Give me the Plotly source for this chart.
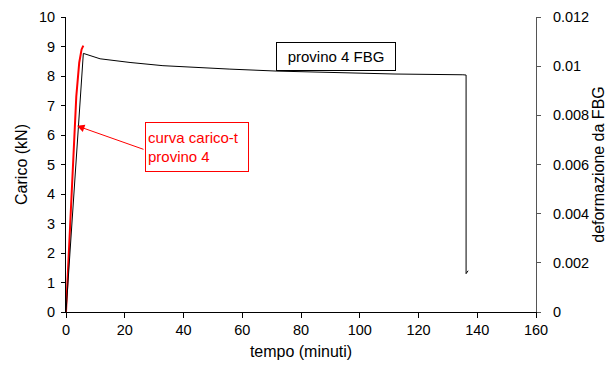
import plotly.graph_objects as go

# Red curve: load vs time (kN), primary axis
t_carico = [0, 1.4, 2.6, 3.5, 4.5, 5.3, 5.9]
carico = [0, 2.9, 5.6, 7.3, 8.45, 8.9, 9.03]

# Black curve: FBG strain vs time, secondary axis
t_fbg = [0, 5.9, 11.6, 21.8, 33.0, 44.6, 55.8, 71.8, 92.0, 112.0, 135.1, 136.2, 136.2, 136.9]
deform_fbg = [0, 0.01052, 0.01030, 0.01015, 0.01002, 0.00994, 0.00988, 0.00980,
              0.00973, 0.00968, 0.00965, 0.00964, 0.00156, 0.00168]

x_ticks = [0, 20, 40, 60, 80, 100, 120, 140, 160]
y_ticks = list(range(0, 11))
y2_ticks = [0, 0.002, 0.004, 0.006, 0.008, 0.01, 0.012]
y2_labels = ["0", "0.002", "0.004", "0.006", "0.008", "0.01", "0.012"]

FONT = "Liberation Sans, Arial, sans-serif"
TICKF = dict(family=FONT, size=14.5, color="black")
TITLEF = dict(family=FONT, size=16, color="black")

fig = go.Figure()
fig.add_trace(go.Scatter(x=t_fbg, y=deform_fbg, mode="lines", yaxis="y2",
                         line=dict(color="black", width=1), showlegend=False))
fig.add_trace(go.Scatter(x=t_carico, y=carico, mode="lines", yaxis="y",
                         line=dict(color="#ff0000", width=2), showlegend=False))

fig.update_layout(
    width=609, height=372,
    margin=dict(l=66, r=73, t=17, b=60, autoexpand=False),
    paper_bgcolor="white", plot_bgcolor="white",
    font=dict(family=FONT, size=13, color="black"),
    xaxis=dict(range=[0, 160], tickvals=x_ticks, showgrid=False, zeroline=False,
               showline=True, linecolor="black", linewidth=1, automargin=False,
               ticks="outside", ticklen=5, tickcolor="black", tickfont=TICKF,
               title=dict(text="tempo (minuti)", standoff=8, font=TITLEF)),
    yaxis=dict(range=[0, 10], tickvals=y_ticks, showgrid=False, zeroline=False,
               showline=True, linecolor="black", linewidth=1, automargin=False,
               ticks="outside", ticklen=4, tickcolor="black", tickfont=TICKF,
               ticklabelstandoff=3,
               title=dict(text="Carico (kN)", standoff=7, font=TITLEF)),
    yaxis2=dict(range=[0, 0.012], tickvals=y2_ticks, ticktext=y2_labels,
                overlaying="y", side="right", anchor="x", automargin=False,
                showgrid=False, zeroline=False,
                showline=True, linecolor="#555555", linewidth=1,
                ticks="outside", ticklen=4, tickcolor="#555555", tickfont=TICKF,
                ticklabelstandoff=9,
                title=dict(text="deformazione da FBG", standoff=4, font=TITLEF)),
    yaxis3=dict(range=[0, 0.012], tickvals=y2_ticks, overlaying="y", side="right",
                anchor="x", showgrid=False, zeroline=False, showline=False,
                automargin=False,
                showticklabels=False, ticks="inside", ticklen=4, tickcolor="#555555"),
)

# Arrow pointing to the red curve
fig.add_annotation(x=3.74, y=6.31, xref="x", yref="y", text="",
                   showarrow=True, arrowhead=2, arrowsize=1.5, arrowwidth=1,
                   arrowcolor="#ff0000", axref="pixel", ayref="pixel", ax=68, ay=24)
# Red label box
fig.add_annotation(x=(145 - 66) / 470 * 160, y=(312 - 122) / 29.5, xref="x", yref="y",
                   xanchor="left", yanchor="top", showarrow=False, align="left",
                   text="curva carico-t<br>provino 4",
                   font=dict(color="#ff0000", size=15, family=FONT),
                   bordercolor="#ff0000", borderwidth=1, borderpad=2,
                   width=98, height=44, bgcolor="white")
# Black label box
fig.add_annotation(x=(336 - 66) / 470 * 160, y=(312 - 56) / 29.5, xref="x", yref="y",
                   xanchor="center", yanchor="middle", showarrow=False,
                   text="provino 4 FBG",
                   font=dict(color="black", size=15, family=FONT),
                   bordercolor="black", borderwidth=1, borderpad=2,
                   width=114, height=23, bgcolor="white")

fig.write_html("out.html")
